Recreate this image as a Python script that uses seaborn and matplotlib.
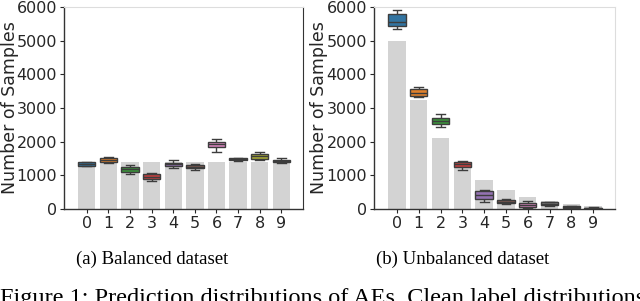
import numpy as np
import pandas as pd
import matplotlib
matplotlib.use("Agg")
import matplotlib.pyplot as plt
import seaborn as sns

# --- data ---
classes = [str(i) for i in range(10)]

# clean label counts (grey bars)
balanced_counts = [1390, 1390, 1390, 1390, 1390, 1390, 1390, 1390, 1390, 1390]
unbalanced_counts = [5000, 3240, 2100, 1360, 870, 565, 365, 235, 150, 95]

# predicted counts per class: [min, q1, median, q3, max]
balanced_pred = [
    [1280, 1290, 1338, 1385, 1395],
    [1378, 1397, 1467, 1526, 1546],
    [1041, 1100, 1179, 1259, 1308],
    [832, 882, 961, 1050, 1080],
    [1219, 1278, 1328, 1378, 1447],
    [1169, 1209, 1259, 1308, 1348],
    [1695, 1833, 1923, 2002, 2091],
    [1440, 1447, 1477, 1516, 1525],
    [1467, 1497, 1566, 1635, 1685],
    [1368, 1387, 1427, 1467, 1506],
]
unbalanced_pred = [
    [5346, 5445, 5565, 5790, 5910],
    [3335, 3365, 3455, 3555, 3633],
    [2445, 2524, 2623, 2712, 2831],
    [1158, 1257, 1327, 1386, 1426],
    [208, 306, 416, 525, 564],
    [140, 168, 205, 267, 290],
    [20, 50, 110, 190, 230],
    [80, 110, 150, 200, 220],
    [10, 30, 50, 80, 100],
    [0, 10, 25, 40, 60],
]

captions = ["(a) Balanced dataset", "(b) Unbalanced dataset"]
caption_x = [152, 463]
figure_caption = "Figure 1: Prediction distributions of AEs. Clean label distributions"


def long_form(pred):
    rows = []
    for c, vals in zip(classes, pred):
        for v in vals:
            rows.append({"label": c, "count": v})
    return pd.DataFrame(rows)


fig = plt.figure(figsize=(6.4, 3.01), dpi=100)
W, H = 640, 301
ax_a = fig.add_axes([64 / W, (H - 209) / H, 239 / W, 202 / H])
ax_b = fig.add_axes([374 / W, (H - 209) / H, 241 / W, 202 / H])

palette = sns.color_palette("tab10", 10)

for ax, counts, pred in [(ax_a, balanced_counts, balanced_pred),
                         (ax_b, unbalanced_counts, unbalanced_pred)]:
    bars = pd.DataFrame({"label": classes, "count": counts})
    sns.barplot(data=bars, x="label", y="count", color="#d3d3d3",
                saturation=1, width=0.8, ax=ax, zorder=1)
    sns.boxplot(data=long_form(pred), x="label", y="count", hue="label",
                palette=palette, whis=(0, 100), width=0.8, linewidth=1,
                legend=False, ax=ax, zorder=3)
    ax.set_xlim(-1.05, 10.0)
    ax.set_ylim(0, 6000)
    ax.set_yticks(range(0, 6001, 1000))
    ax.set_xlabel("")
    ax.set_ylabel("Number of Samples", fontsize=12.5, color="#262626")
    ax.yaxis.set_label_coords(-0.19, 0.5)
    ax.tick_params(axis="both", labelsize=11.5, colors="#262626", length=3, pad=2)
    ax.set_facecolor("white")
    for s in ["left", "bottom"]:
        ax.spines[s].set_color("#333333")
        ax.spines[s].set_linewidth(1.0)
    ax.spines["top"].set_color("#dddddd")
    ax.spines["right"].set_color("#dddddd")

ax_a.spines["right"].set_color("#333333")

for txt, x in zip(captions, caption_x):
    fig.text(x / W, 1 - 259 / H, txt, ha="center", va="center",
             fontsize=13.5, family="Liberation Serif")
fig.text(0, 1 - 304 / H, figure_caption, ha="left", va="baseline",
         fontsize=17.5, family="Liberation Serif")

fig.savefig("out.png", dpi=100)
